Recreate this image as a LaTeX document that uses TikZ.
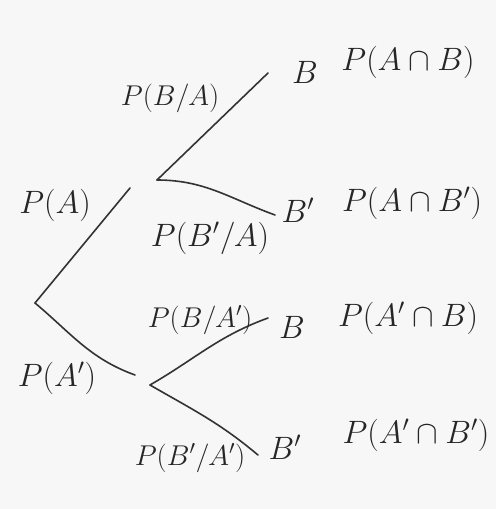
\documentclass[tikz,border=0pt]{standalone}
\begin{document}
\begin{tikzpicture}[x=1pt,y=-1pt,
  branch/.style={line width=1.6pt, draw=black!80, line cap=round},
  lab/.style={inner sep=0pt, text=black!85, font=\fontsize{24}{28}\selectfont, scale=1.3},
  small/.style={inner sep=0pt, text=black!85, font=\fontsize{24}{28}\selectfont, scale=1.15}]
\fill[black!3] (0,0) rectangle (496,509);
\useasboundingbox (0,0) rectangle (496,509);
% junction points
\coordinate (root) at (35,303);
\coordinate (aup) at (130,188);
\coordinate (A) at (157,180);
\coordinate (Bab) at (268,73);
\coordinate (Bac) at (275,215);
\coordinate (adn) at (135,375);
\coordinate (Ap) at (150,385);
\coordinate (Bpb) at (268,318);
\coordinate (Bpc) at (258,455);
% branches
\draw[branch] (root) -- (aup);
\draw[branch] (A) -- (Bab);
\draw[branch] (A) to[out=0,in=160] (Bac);
\draw[branch] (root) to[out=-40,in=160] (adn);
\draw[branch] (Ap) to[out=30,in=200] (Bpb);
\draw[branch] (Ap) to[out=-30,in=140] (Bpc);
% outcome labels
\node[lab] (nB1) at (305,72) {$B$};
\node[lab] (nB2) at (298,210) {$B'$};
\node[lab] (nB3) at (292,327) {$B$};
\node[lab] (nB4) at (285,447) {$B'$};
\node[lab] (jAB) at (408,62) {$P(A\cap B)$};
\node[lab] (jABp) at (412,203) {$P(A\cap B')$};
\node[lab] (jApB) at (408,318) {$P(A'\cap B)$};
\node[lab] (jApBp) at (416,435) {$P(A'\cap B')$};
% branch probabilities
\node[lab] (pA) at (55,205) {$P(A)$};
\node[lab] (pAp) at (57,378) {$P(A')$};
\node[small] (pBA) at (170,98) {$P(B/A)$};
\node[lab] (pBpA) at (210,238) {$P(B'/A)$};
\node[small] (pBAp) at (200,320) {$P(B/A')$};
\node[small] (pBpAp) at (190,458) {$P(B'/A')$};
\end{tikzpicture}
\end{document}
